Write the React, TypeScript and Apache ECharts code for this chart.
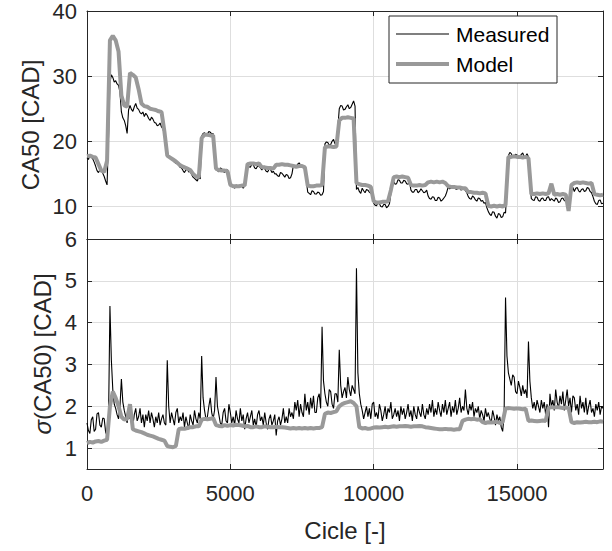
import React, { useEffect, useRef } from "react";
import * as echarts from "echarts";

// Cycle spacing of the samples (measured: i * MEAS_STEP, model: i * MODEL_STEP)
const MEAS_STEP = 50;
const MODEL_STEP = 100;

// CA50 [CAD], measured (0 .. 18000 cycles, every 50 cycles)
const CA50_MEASURED = [
  17.5, 17.2, 17.9, 17.6, 17.3, 16.8, 16.2, 15.5, 15.2, 15.6, 15.8, 15.1, 14.6, 13.9, 13.3, 20.5, 29.0, 30.2, 29.8, 29.1,
  29.3, 28.8, 28.6, 27.5, 24.5, 23.6, 23.2, 22.4, 21.2, 24.8, 25.5, 24.9, 24.6, 25.3, 25.8, 25.1, 24.9, 24.4, 24.2, 24.5,
  23.8, 24.3, 24.0, 23.5, 23.2, 23.7, 23.4, 22.9, 22.8, 22.4, 22.5, 22.8, 22.2, 21.9, 21.0, 18.9, 18.3, 17.9, 17.6, 17.2,
  17.1, 16.8, 16.6, 16.9, 16.3, 16.0, 15.9, 15.5, 15.2, 15.6, 15.7, 15.3, 15.4, 14.9, 14.5, 14.3, 14.1, 13.9, 14.6, 14.2,
  20.8, 21.2, 21.3, 21.0, 21.1, 21.5, 21.4, 21.1, 21.2, 19.0, 16.0, 15.5, 15.3, 15.9, 15.8, 15.4, 15.2, 15.7, 15.6, 15.1,
  13.2, 13.4, 13.0, 12.8, 13.3, 13.1, 12.9, 13.2, 13.1, 12.8, 13.3, 14.5, 16.3, 16.1, 16.0, 16.5, 16.4, 15.9, 15.8, 16.2,
  16.2, 15.9, 15.6, 16.0, 15.8, 15.4, 15.3, 15.7, 15.7, 15.2, 15.4, 15.0, 15.0, 14.7, 14.6, 15.2, 15.1, 14.8, 14.5, 14.9,
  14.8, 14.3, 14.4, 15.0, 16.3, 16.1, 16.0, 16.5, 16.7, 16.3, 16.2, 16.0, 15.8, 14.0, 12.2, 12.0, 11.8, 12.4, 12.3, 11.9,
  11.9, 12.2, 12.1, 11.7, 11.8, 12.3, 19.6, 19.9, 19.8, 19.4, 19.5, 20.0, 20.3, 19.6, 19.7, 22.0, 25.0, 25.5, 25.4, 24.8,
  24.9, 25.3, 25.6, 25.0, 25.2, 25.7, 26.2, 25.4, 12.6, 12.9, 12.3, 12.0, 12.8, 12.4, 12.1, 12.6, 12.5, 12.2, 12.0, 11.8,
  10.5, 10.2, 10.1, 10.6, 10.4, 10.0, 9.9, 10.3, 10.3, 9.8, 10.0, 10.4, 12.0, 13.9, 13.8, 13.4, 13.5, 14.1, 14.0, 13.6,
  13.6, 14.0, 13.9, 13.5, 13.4, 13.8, 12.5, 12.2, 12.2, 12.6, 12.6, 12.1, 12.3, 12.7, 12.4, 12.1, 12.2, 12.5, 11.6, 11.2,
  11.1, 11.5, 11.4, 10.9, 10.9, 11.4, 11.3, 10.8, 11.0, 11.3, 11.6, 12.2, 13.0, 12.7, 12.8, 13.2, 13.1, 12.7, 12.6, 12.9,
  12.9, 12.5, 12.7, 12.8, 12.4, 12.1, 11.5, 11.2, 11.1, 11.6, 11.4, 11.0, 10.8, 11.3, 11.2, 10.8, 10.9, 10.5, 10.6, 9.8,
  9.2, 8.8, 8.6, 9.2, 9.1, 8.5, 8.2, 8.9, 8.8, 8.3, 8.4, 9.1, 9.0, 13.0, 17.8, 18.3, 18.1, 17.5, 17.6, 18.0,
  17.9, 17.4, 17.5, 18.0, 18.2, 17.6, 17.7, 18.1, 17.6, 14.0, 11.2, 11.0, 10.9, 11.5, 11.4, 10.9, 10.8, 11.2, 11.3, 10.9,
  10.9, 11.4, 11.5, 10.9, 11.2, 11.0, 10.8, 11.3, 11.1, 10.6, 10.7, 11.2, 11.3, 10.9, 10.8, 11.2, 11.0, 10.6, 12.6, 12.9,
  12.3, 12.8, 12.9, 12.4, 12.2, 12.6, 12.7, 12.3, 12.4, 12.9, 12.8, 12.3, 12.1, 11.5, 10.8, 10.4, 10.3, 10.9, 11.0, 10.4,
  10.5,
];

// CA50 [CAD], model (every 100 cycles)
const CA50_MODEL = [
  17.7, 17.8, 17.6, 17.5, 16.5, 15.5, 15.3, 17.0, 35.5, 36.2,
  35.5, 33.8, 27.0, 25.5, 25.3, 30.5, 30.2, 29.8, 28.0, 25.8,
  25.4, 25.3, 25.0, 24.9, 24.8, 24.6, 24.5, 21.5, 17.8, 17.5,
  17.2, 16.9, 16.5, 16.2, 16.0, 15.8, 15.6, 15.0, 14.6, 14.5,
  20.5, 21.0, 21.0, 20.9, 20.9, 15.8, 15.6, 15.5, 15.5, 15.4,
  13.3, 13.1, 13.1, 13.1, 13.2, 13.2, 16.5, 16.6, 16.6, 16.5,
  16.6, 16.0, 16.0, 15.9, 15.9, 15.8, 16.4, 16.4, 16.5, 16.4,
  16.4, 16.3, 16.2, 16.1, 16.2, 16.2, 16.0, 13.2, 13.1, 13.1,
  13.2, 13.2, 13.3, 19.1, 19.2, 19.2, 19.1, 19.2, 23.2, 23.6,
  23.6, 23.7, 23.6, 23.5, 13.6, 13.4, 13.3, 13.3, 13.2, 13.0,
  10.8, 10.6, 10.6, 10.7, 10.7, 10.8, 12.5, 14.5, 14.6, 14.5,
  14.6, 14.5, 14.4, 13.3, 13.2, 13.2, 13.3, 13.2, 13.3, 13.7,
  13.8, 13.7, 13.8, 13.7, 13.8, 13.6, 13.1, 13.0, 13.0, 12.9,
  12.9, 12.8, 12.8, 12.2, 12.2, 12.1, 12.1, 12.0, 12.1, 12.0,
  10.1, 10.0, 10.1, 10.0, 10.1, 10.0, 10.2, 17.6, 17.6, 17.7,
  17.6, 17.6, 17.5, 17.6, 17.4, 11.9, 11.9, 12.0, 11.9, 12.0,
  11.9, 12.0, 13.5, 11.8, 11.9, 11.8, 11.9, 11.8, 9.3, 13.3,
  13.6, 13.7, 13.6, 13.7, 13.6, 13.5, 13.6, 11.9, 11.8, 11.7,
  11.8,
];

// sigma(CA50) [CAD], measured (every 50 cycles)
const SIGMA_MEASURED = [
  1.60, 1.42, 1.35, 1.68, 1.75, 1.40, 1.45, 1.82, 1.85, 1.55, 1.50, 1.72, 1.70, 1.38, 1.30, 1.60, 4.40, 3.10, 2.40, 2.05,
  1.95, 1.80, 1.70, 2.00, 2.65, 2.10, 1.90, 1.75, 1.60, 1.95, 1.70, 1.85, 1.55, 1.80, 1.95, 1.65, 1.75, 1.95, 1.60, 1.80,
  1.50, 1.80, 1.65, 1.90, 1.60, 1.85, 1.70, 1.50, 1.75, 1.60, 1.85, 1.55, 1.70, 1.80, 1.60, 1.55, 3.10, 2.00, 1.60, 1.85,
  1.70, 1.55, 1.85, 1.95, 1.60, 1.75, 1.65, 1.85, 1.50, 1.75, 1.60, 1.45, 1.80, 1.65, 1.55, 1.90, 1.70, 1.60, 1.85, 1.70,
  3.20, 2.20, 1.90, 1.70, 1.75, 2.00, 2.20, 1.85, 1.70, 1.90, 2.70, 2.00, 1.80, 1.60, 1.55, 1.85, 1.95, 1.65, 1.60, 2.05,
  1.85, 1.60, 1.75, 1.55, 1.90, 1.70, 1.60, 1.95, 1.65, 1.80, 1.45, 1.70, 1.85, 1.60, 1.75, 1.90, 1.55, 1.70, 1.50, 1.80,
  1.90, 1.65, 1.75, 1.55, 1.85, 1.60, 1.45, 1.70, 1.80, 1.55, 1.65, 1.80, 1.30, 1.65, 1.75, 1.55, 1.70, 1.95, 1.60, 1.75,
  1.60, 1.95, 1.75, 1.85, 1.70, 2.10, 1.90, 2.15, 1.75, 2.05, 1.85, 1.75, 2.30, 1.90, 2.10, 1.80, 2.20, 1.95, 2.25, 1.85,
  1.85, 2.20, 2.30, 1.95, 3.90, 2.60, 2.30, 2.10, 2.00, 2.40, 2.35, 2.05, 1.95, 2.30, 2.30, 2.10, 3.35, 2.50, 2.20, 2.35,
  2.45, 2.20, 2.70, 2.40, 2.25, 2.50, 2.40, 2.30, 5.30, 2.80, 2.30, 2.05, 1.90, 1.70, 1.85, 2.00, 1.75, 1.95, 1.70, 2.05,
  2.10, 1.75, 1.85, 1.70, 2.05, 1.90, 1.65, 1.80, 2.00, 1.70, 1.95, 1.85, 2.10, 1.70, 1.80, 1.95, 1.75, 1.90, 1.65, 2.00,
  1.80, 1.95, 1.70, 1.85, 2.05, 1.75, 1.90, 1.65, 2.00, 1.80, 1.70, 2.00, 1.85, 1.75, 2.05, 1.80, 1.70, 1.95, 1.80, 2.05,
  1.85, 2.15, 1.75, 1.95, 1.80, 2.10, 1.90, 1.75, 2.05, 1.85, 2.15, 1.80, 1.95, 2.10, 1.75, 2.00, 1.85, 2.15, 1.80, 1.95,
  2.20, 1.85, 2.00, 1.90, 2.40, 1.95, 1.80, 2.05, 1.90, 2.10, 1.75, 1.95, 1.85, 2.00, 1.70, 1.90, 1.80, 1.65, 1.95, 1.75,
  1.85, 1.70, 1.60, 1.90, 1.75, 1.55, 1.80, 1.65, 1.75, 1.50, 1.40, 1.80, 4.60, 3.20, 2.80, 2.65, 2.50, 2.75, 2.70, 2.35,
  2.30, 2.60, 2.45, 2.25, 2.50, 2.30, 2.40, 2.20, 3.55, 2.60, 2.20, 1.95, 2.10, 1.90, 2.15, 2.00, 1.85, 2.15, 1.95, 2.10,
  1.80, 2.05, 1.50, 2.30, 2.00, 2.15, 1.90, 2.40, 2.10, 1.95, 2.25, 2.05, 2.35, 1.90, 2.15, 2.40, 2.00, 2.20, 1.85, 2.25,
  2.20, 1.90, 2.05, 1.80, 2.25, 1.95, 2.10, 1.85, 2.20, 1.80, 2.00, 2.15, 1.85, 1.95, 1.75, 2.05, 1.90, 2.10, 1.80, 2.00,
  1.95,
];

// sigma(CA50) [CAD], model (every 100 cycles)
const SIGMA_MODEL = [
  1.12, 1.15, 1.13, 1.16, 1.17, 1.15, 1.18, 1.20, 2.00, 2.35,
  2.20, 2.00, 1.75, 1.68, 1.70, 2.05, 1.45, 1.42, 1.40, 1.38,
  1.35, 1.32, 1.30, 1.28, 1.25, 1.22, 1.20, 1.18, 1.05, 1.03,
  1.02, 1.05, 1.45, 1.47, 1.46, 1.48, 1.50, 1.50, 1.52, 1.52,
  1.68, 1.70, 1.69, 1.70, 1.72, 1.55, 1.53, 1.52, 1.55, 1.53,
  1.55, 1.54, 1.56, 1.55, 1.54, 1.52, 1.53, 1.50, 1.50, 1.52,
  1.50, 1.50, 1.52, 1.51, 1.50, 1.50, 1.51, 1.50, 1.50, 1.49,
  1.48, 1.47, 1.48, 1.47, 1.48, 1.47, 1.48, 1.47, 1.48, 1.47,
  1.48, 1.48, 1.50, 1.82, 1.85, 1.84, 1.86, 1.88, 2.00, 2.05,
  2.08, 2.10, 2.12, 2.08, 2.00, 1.50, 1.47, 1.48, 1.46, 1.47,
  1.49, 1.50, 1.49, 1.50, 1.51, 1.50, 1.51, 1.52, 1.51, 1.52,
  1.52, 1.53, 1.52, 1.51, 1.52, 1.52, 1.53, 1.52, 1.50, 1.49,
  1.48, 1.47, 1.46, 1.45, 1.45, 1.46, 1.45, 1.45, 1.44, 1.45,
  1.45, 1.65, 1.68, 1.70, 1.69, 1.70, 1.68, 1.69, 1.62, 1.60,
  1.62, 1.61, 1.62, 1.63, 1.60, 1.62, 1.95, 1.96, 1.95, 1.94,
  1.95, 1.94, 1.93, 1.94, 1.65, 1.66, 1.65, 1.64, 1.65, 1.66,
  1.65, 1.96, 1.98, 1.97, 1.98, 1.97, 1.96, 1.97, 1.96, 1.62,
  1.60, 1.62, 1.61, 1.62, 1.63, 1.62, 1.62, 1.63, 1.62, 1.64,
  1.63,
];

const X_TICKS = [0, 5000, 10000, 15000];
const CA50_TICKS = [10, 20, 30, 40];
const SIGMA_TICKS = [1, 2, 3, 4, 5, 6];
const LEGEND_NAMES = ["Measured", "Model"];

const FONT = "'Liberation Sans', Arial, Helvetica, sans-serif";
const TEXT = "#262626";
const AXIS = "#262626";
const GRIDC = "#dedede";
const MODEL_C = "#999999";
const MEAS_C = "#000000";

const toPairs = (vals: number[], step: number) => vals.map((v, i) => [i * step, v]);

const L = 87;
const R = 9;
const TOP1 = 11;
const H1 = 228;
const TOP2 = 239;
const H2 = 230;

function xAxis(gridIndex: number, position: string, showLabel: boolean) {
  return {
    type: "value",
    gridIndex,
    position,
    min: 0,
    max: 18000,
    axisLine: { show: true, onZero: false, lineStyle: { color: AXIS, width: 1 } },
    axisTick: { show: true, inside: true, length: 5, customValues: X_TICKS, lineStyle: { color: AXIS } },
    axisLabel: {
      show: showLabel,
      customValues: X_TICKS,
      formatter: (v: number) => String(v),
      fontSize: 22,
      color: TEXT,
      fontFamily: FONT,
      margin: 13,
    },
    splitLine: { show: position === "bottom", lineStyle: { color: GRIDC, width: 1 } },
  };
}

function yAxis(gridIndex: number, position: string, min: number, max: number, ticks: number[], showLabel: boolean) {
  return {
    type: "value",
    gridIndex,
    position,
    min,
    max,
    axisLine: { show: true, onZero: false, lineStyle: { color: AXIS, width: 1 } },
    axisTick: { show: true, inside: true, length: 5, customValues: ticks, lineStyle: { color: AXIS } },
    axisLabel: {
      show: showLabel,
      customValues: ticks,
      formatter: (v: number) => String(v),
      fontSize: 22,
      color: TEXT,
      fontFamily: FONT,
      margin: 10,
    },
    splitLine: { show: position === "left", lineStyle: { color: GRIDC, width: 1 } },
  };
}

export default function App() {
  const ref = useRef<HTMLDivElement>(null);
  useEffect(() => {
    if (!ref.current) return;
    const chart = echarts.init(ref.current, null, { renderer: "svg" });
    const lx = 389, ly = 16, lw = 168, lh = 67;
    chart.setOption({
      animation: false,
      backgroundColor: "#ffffff",
      grid: [
        { left: L, right: R, top: TOP1, height: H1 },
        { left: L, right: R, top: TOP2, height: H2 },
      ],
      xAxis: [
        xAxis(0, "bottom", false),
        xAxis(0, "top", false),
        xAxis(1, "bottom", true),
        xAxis(1, "top", false),
      ],
      yAxis: [
        yAxis(0, "left", 5, 40, CA50_TICKS, true),
        yAxis(0, "right", 5, 40, CA50_TICKS, false),
        yAxis(1, "left", 0.5, 6, SIGMA_TICKS, true),
        yAxis(1, "right", 0.5, 6, SIGMA_TICKS, false),
      ],
      series: [
        {
          name: LEGEND_NAMES[0], type: "line", xAxisIndex: 0, yAxisIndex: 0,
          data: toPairs(CA50_MEASURED, MEAS_STEP), showSymbol: false, symbol: "none", z: 2,
          lineStyle: { color: MEAS_C, width: 1.1 },
        },
        {
          name: LEGEND_NAMES[1], type: "line", xAxisIndex: 0, yAxisIndex: 0,
          data: toPairs(CA50_MODEL, MODEL_STEP), showSymbol: false, symbol: "none", z: 3,
          lineStyle: { color: MODEL_C, width: 4 },
        },
        {
          name: LEGEND_NAMES[0], type: "line", xAxisIndex: 2, yAxisIndex: 2,
          data: toPairs(SIGMA_MEASURED, MEAS_STEP), showSymbol: false, symbol: "none", z: 2,
          lineStyle: { color: MEAS_C, width: 1.1 },
        },
        {
          name: LEGEND_NAMES[1], type: "line", xAxisIndex: 2, yAxisIndex: 2,
          data: toPairs(SIGMA_MODEL, MODEL_STEP), showSymbol: false, symbol: "none", z: 3,
          lineStyle: { color: MODEL_C, width: 4 },
        },
      ],
      graphic: [
        {
          type: "text", x: 30, y: TOP1 + H1 / 2, rotation: Math.PI / 2, z: 100,
          style: { text: "CA50 [CAD]", fontSize: 24, fontFamily: FONT, fill: TEXT, align: "center", verticalAlign: "middle" },
        },
        {
          type: "text", x: 42, y: TOP2 + H2 / 2, rotation: Math.PI / 2, z: 100,
          style: {
            text: "{s|σ}(CA50) [CAD]", fontSize: 24, fontFamily: FONT, fill: TEXT, align: "center", verticalAlign: "middle",
            rich: { s: { fontStyle: "italic", fontSize: 24, fontFamily: FONT, fill: TEXT } },
          },
        },
        {
          type: "text", x: (L + 612 - R) / 2, y: 530, z: 100,
          style: { text: "Cicle [-]", fontSize: 24, fontFamily: FONT, fill: TEXT, align: "center", verticalAlign: "middle" },
        },
        {
          type: "rect", z: 100, shape: { x: lx, y: ly, width: lw, height: lh },
          style: { fill: "#ffffff", stroke: AXIS, lineWidth: 1 },
        },
        {
          type: "line", z: 101, shape: { x1: lx + 7, y1: ly + 18, x2: lx + 60, y2: ly + 18 },
          style: { stroke: MEAS_C, lineWidth: 1.1 },
        },
        {
          type: "line", z: 101, shape: { x1: lx + 7, y1: ly + 48, x2: lx + 60, y2: ly + 48 },
          style: { stroke: MODEL_C, lineWidth: 4 },
        },
        {
          type: "text", z: 101, x: lx + 67, y: ly + 18,
          style: { text: LEGEND_NAMES[0], fontSize: 21, fontFamily: FONT, fill: "#000", align: "left", verticalAlign: "middle" },
        },
        {
          type: "text", z: 101, x: lx + 67, y: ly + 48,
          style: { text: LEGEND_NAMES[1], fontSize: 21, fontFamily: FONT, fill: "#000", align: "left", verticalAlign: "middle" },
        },
      ],
    });
    return () => chart.dispose();
  }, []);
  return (
    <div
      ref={ref}
      style={{ position: "fixed", left: 0, top: 0, width: 612, height: 551, background: "#fff" }}
    />
  );
}
